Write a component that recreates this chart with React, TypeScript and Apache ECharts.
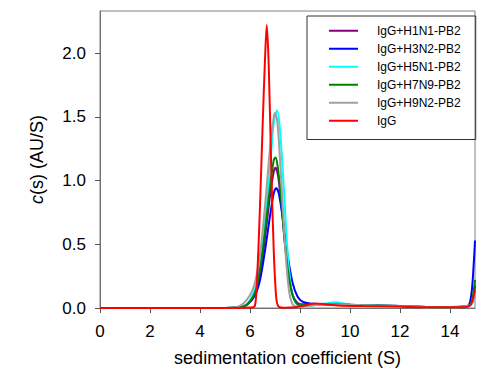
import React, { useEffect, useRef } from "react";
import * as echarts from "echarts";

const xTicks = [0, 2, 4, 6, 8, 10, 12, 14];
const yTicks = [0, 0.5, 1.0, 1.5, 2.0];

const seriesNames = ["IgG+H1N1-PB2", "IgG+H3N2-PB2", "IgG+H5N1-PB2", "IgG+H7N9-PB2", "IgG+H9N2-PB2", "IgG"];
const seriesColors = ["#800080", "#0000ff", "#00ffff", "#008000", "#a0a0a0", "#ff0000"];

const h1n1X = [0, 5.0, 5.6, 5.9, 6.2, 6.4, 6.6, 6.8, 6.95, 7.02, 7.12, 7.25, 7.4, 7.55, 7.7, 7.85, 8.0, 8.5, 9.0, 9.5, 10, 11, 12, 13, 14, 14.7, 14.85, 14.95, 15];
const h1n1Y = [0, 0, 0.005, 0.03, 0.11, 0.27, 0.55, 0.88, 1.07, 1.1, 1.04, 0.82, 0.5, 0.26, 0.11, 0.05, 0.03, 0.03, 0.03, 0.03, 0.025, 0.02, 0.015, 0.008, 0.006, 0.012, 0.04, 0.1, 0.18];

const h3n2X = [0, 5.0, 5.6, 5.9, 6.2, 6.4, 6.6, 6.8, 6.95, 7.05, 7.15, 7.3, 7.5, 7.7, 7.9, 8.1, 8.4, 9.0, 10, 11, 12, 13, 14, 14.7, 14.85, 14.95, 15];
const h3n2Y = [0, 0, 0.005, 0.03, 0.1, 0.22, 0.45, 0.72, 0.9, 0.94, 0.9, 0.72, 0.42, 0.2, 0.09, 0.05, 0.035, 0.03, 0.025, 0.02, 0.015, 0.01, 0.008, 0.015, 0.1, 0.35, 0.53];

const h5n1X = [0, 5.0, 5.5, 5.8, 6.0, 6.2, 6.4, 6.6, 6.8, 6.95, 7.08, 7.2, 7.35, 7.5, 7.65, 7.8, 8.0, 8.5, 9.0, 9.4, 10, 11, 12, 13, 14, 14.8, 14.92, 15];
const h5n1Y = [0, 0, 0.005, 0.02, 0.06, 0.15, 0.35, 0.7, 1.1, 1.45, 1.55, 1.4, 0.95, 0.45, 0.15, 0.05, 0.02, 0.02, 0.035, 0.045, 0.025, 0.02, 0.015, 0.006, 0.005, 0.02, 0.05, 0.1];

const h7n9X = [0, 5.0, 5.6, 5.9, 6.2, 6.4, 6.6, 6.8, 6.95, 7.02, 7.1, 7.25, 7.4, 7.55, 7.7, 7.85, 8.0, 8.5, 9.0, 9.5, 10, 11, 12, 13, 14, 14.75, 14.88, 14.96, 15];
const h7n9Y = [0, 0, 0.005, 0.03, 0.12, 0.3, 0.6, 0.95, 1.16, 1.18, 1.12, 0.85, 0.5, 0.25, 0.1, 0.04, 0.02, 0.03, 0.03, 0.028, 0.025, 0.02, 0.015, 0.008, 0.006, 0.015, 0.06, 0.15, 0.22];

const h9n2X = [0, 5.0, 5.4, 5.7, 6.0, 6.2, 6.4, 6.6, 6.8, 6.95, 7.0, 7.1, 7.25, 7.4, 7.55, 7.7, 7.9, 8.5, 9.0, 10, 11, 12, 13, 14, 14.8, 14.92, 15];
const h9n2Y = [0, 0, 0.005, 0.03, 0.1, 0.2, 0.42, 0.8, 1.25, 1.5, 1.53, 1.45, 1.0, 0.5, 0.15, 0.03, 0.01, 0.02, 0.03, 0.025, 0.02, 0.015, 0.006, 0.005, 0.02, 0.05, 0.1];

const iggX = [0, 5.0, 6.0, 6.2, 6.3, 6.4, 6.5, 6.6, 6.67, 6.75, 6.85, 6.95, 7.05, 7.15, 7.4, 7.8, 8.2, 8.6, 9.0, 9.5, 10.5, 12, 13, 14.5, 14.8, 14.9, 15];
const iggY = [0, 0, 0.003, 0.02, 0.3, 0.8, 1.4, 1.95, 2.22, 1.9, 1.1, 0.45, 0.08, 0.01, 0.002, 0.005, 0.02, 0.035, 0.03, 0.02, 0.015, 0.012, 0.005, 0.005, 0.02, 0.06, 0.14];

const seriesXs = [h1n1X, h3n2X, h5n1X, h7n9X, h9n2X, iggX];
const seriesYs = [h1n1Y, h3n2Y, h5n1Y, h7n9Y, h9n2Y, iggY];

const FONT = "'Liberation Sans', Arial, Helvetica, sans-serif";

export default function App() {
  const ref = useRef<HTMLDivElement>(null);
  useEffect(() => {
    if (!ref.current) return;
    const chart = echarts.init(ref.current, null, { renderer: "svg" });
    chart.setOption({
      animation: false,
      backgroundColor: "#ffffff",
      grid: {
        left: 100,
        right: 25,
        top: 11,
        bottom: 68,
        show: true,
        borderColor: "#808080",
        borderWidth: 1,
      },
      legend: {
        orient: "vertical",
        left: 307,
        top: 16,
        data: seriesNames,
        icon: "rect",
        itemWidth: 29,
        itemHeight: 2,
        itemGap: 0.5,
        padding: [6, 15, 10, 22],
        borderColor: "#333333",
        borderWidth: 1,
        textStyle: {
          fontFamily: FONT,
          fontSize: 12,
          color: "#000",
          padding: [0, 0, 0, 14],
          lineHeight: 17.5,
        },
      },
      xAxis: {
        type: "value",
        min: 0,
        max: 15,
        name: "sedimentation coefficient (S)",
        nameLocation: "middle",
        nameGap: 41,
        nameTextStyle: { fontFamily: FONT, fontSize: 18, color: "#000" },
        splitLine: { show: false },
        axisLine: { show: true, lineStyle: { color: "#707070", width: 1 } },
        axisTick: { show: true, inside: false, length: 5, customValues: xTicks, lineStyle: { color: "#555" } },
        axisLabel: {
          customValues: xTicks,
          margin: 15,
          fontFamily: FONT,
          fontSize: 17,
          color: "#000",
        },
      },
      yAxis: {
        type: "value",
        min: 0,
        max: 2.33,
        name: "{i|c}(s) (AU/S)",
        nameLocation: "middle",
        nameGap: 54,
        nameRotate: 90,
        nameTextStyle: {
          fontFamily: FONT,
          fontSize: 18,
          color: "#000",
          rich: { i: { fontFamily: FONT, fontSize: 18, fontStyle: "italic", color: "#000" } },
        },
        splitLine: { show: false },
        axisLine: { show: true, lineStyle: { color: "#707070", width: 1 } },
        axisTick: { show: true, inside: false, length: 5, customValues: yTicks, lineStyle: { color: "#555" } },
        axisLabel: {
          customValues: yTicks,
          margin: 14,
          fontFamily: FONT,
          fontSize: 17,
          color: "#000",
          formatter: (v: number) => v.toFixed(1),
        },
      },
      series: seriesNames.map((name, i) => ({
        name,
        type: "line",
        data: seriesXs[i].map((x, j) => [x, seriesYs[i][j]]),
        showSymbol: false,
        symbol: "none",
        smooth: 0.3,
        lineStyle: { color: seriesColors[i], width: 2 },
        itemStyle: { color: seriesColors[i] },
        clip: true,
      })),
    });
    return () => chart.dispose();
  }, []);
  return (
    <div
      ref={ref}
      style={{ position: "fixed", left: 0, top: 0, width: 500, height: 376 }}
    />
  );
}
